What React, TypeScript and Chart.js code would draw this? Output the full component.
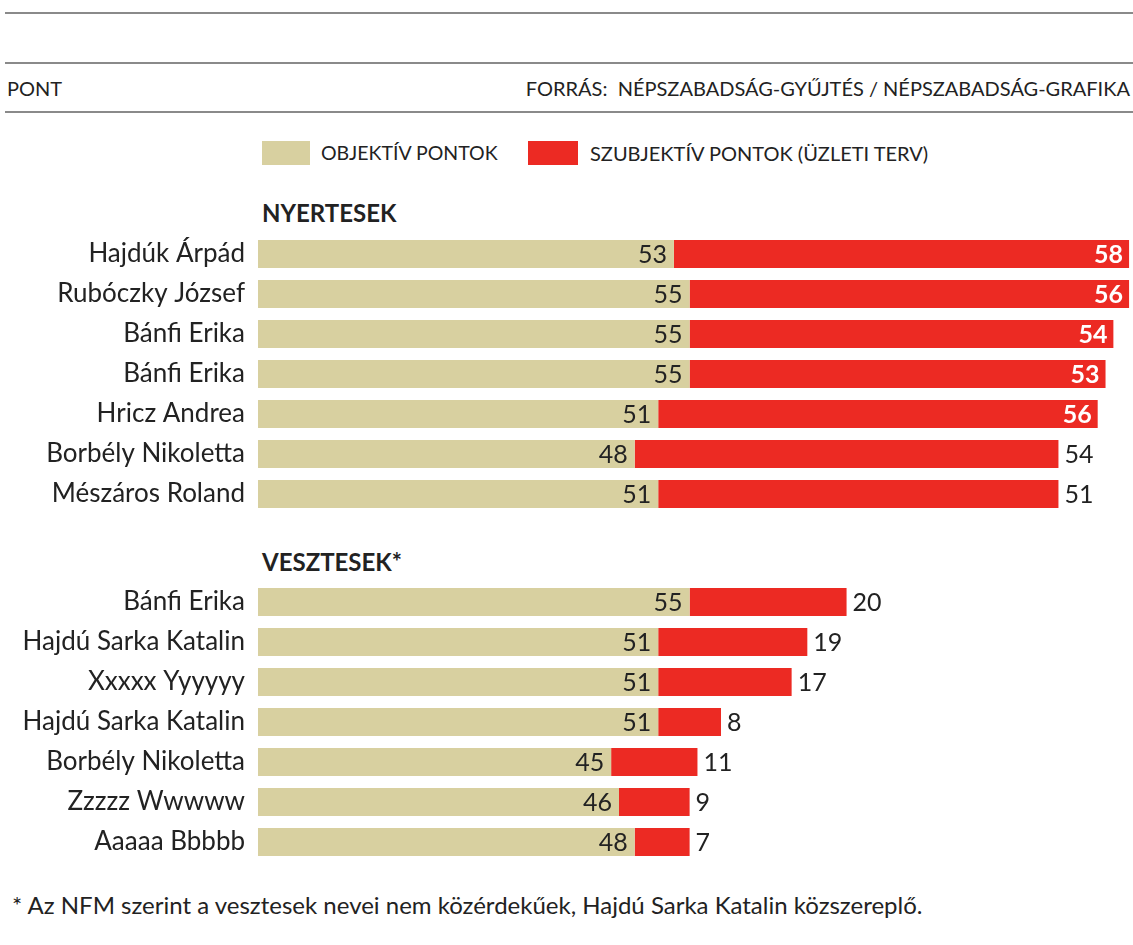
import React, { useEffect, useRef } from "react";
import { Chart, registerables } from "chart.js";

Chart.register(...registerables);

const seriesNames = ["OBJEKTÍV PONTOK", "SZUBJEKTÍV PONTOK (ÜZLETI TERV)"];

const winnerNames = [
  "Hajdúk Árpád",
  "Rubóczky József",
  "Bánfi Erika",
  "Bánfi Erika",
  "Hricz Andrea",
  "Borbély Nikoletta",
  "Mészáros Roland",
];
const winnerObjective = [53, 55, 55, 55, 51, 48, 51];
const winnerSubjective = [58, 56, 54, 53, 56, 54, 51];

const loserNames = [
  "Bánfi Erika",
  "Hajdú Sarka Katalin",
  "Xxxxx Yyyyyy",
  "Hajdú Sarka Katalin",
  "Borbély Nikoletta",
  "Zzzzz Wwwww",
  "Aaaaa Bbbbb",
];
const loserObjective = [55, 51, 51, 51, 45, 46, 48];
const loserSubjective = [20, 19, 17, 8, 11, 9, 7];

const xMax = 111.5;

const FONT = "Lato, 'Open Sans', sans-serif";
const TAN = "#d8d0a0";
const RED = "#ec2a23";
const TEXT = "#222222";

const labelPlugin = {
  id: "valueLabels",
  afterDatasetsDraw(chart: any) {
    const ctx = chart.ctx;
    const area = chart.chartArea;
    ctx.save();
    ctx.textBaseline = "middle";
    const m0 = chart.getDatasetMeta(0);
    m0.data.forEach((bar: any, i: number) => {
      const v = chart.data.datasets[0].data[i];
      ctx.font = `25px ${FONT}`;
      ctx.fillStyle = TEXT;
      ctx.textAlign = "right";
      ctx.fillText(String(v), bar.x - 7, bar.y + 1);
    });
    const m1 = chart.getDatasetMeta(1);
    m1.data.forEach((bar: any, i: number) => {
      const v = chart.data.datasets[1].data[i];
      const inside = bar.x + 45 > area.right;
      if (inside) {
        ctx.font = `bold 25px ${FONT}`;
        ctx.fillStyle = "#ffffff";
        ctx.textAlign = "right";
        ctx.fillText(String(v), bar.x - 6, bar.y + 1);
      } else {
        ctx.font = `25px ${FONT}`;
        ctx.fillStyle = TEXT;
        ctx.textAlign = "left";
        ctx.fillText(String(v), bar.x + 6, bar.y + 1);
      }
    });
    ctx.restore();
  },
};

function BarBlock(props: { names: string[]; obj: number[]; subj: number[]; top: number }) {
  const ref = useRef<HTMLCanvasElement>(null);
  useEffect(() => {
    const chart = new Chart(ref.current as HTMLCanvasElement, {
      type: "bar",
      data: {
        labels: props.names,
        datasets: [
          {
            label: seriesNames[0],
            data: props.obj,
            backgroundColor: TAN,
            borderWidth: 0,
            barPercentage: 0.7,
            categoryPercentage: 1,
          },
          {
            label: seriesNames[1],
            data: props.subj,
            backgroundColor: RED,
            borderWidth: 0,
            barPercentage: 0.7,
            categoryPercentage: 1,
          },
        ],
      },
      options: {
        indexAxis: "y",
        responsive: false,
        maintainAspectRatio: false,
        animation: false,
        layout: { padding: 0 },
        plugins: { legend: { display: false }, tooltip: { enabled: false } },
        scales: {
          x: { stacked: true, min: 0, max: xMax, display: false },
          y: {
            stacked: true,
            grid: { display: false, drawTicks: true, tickLength: 13 },
            border: { display: false },
            ticks: { padding: 0, color: TEXT, font: { family: FONT, size: 26, lineHeight: 0 } },
            afterFit: (s: any) => {
              s.width = 258;
            },
          },
        },
      } as any,
      plugins: [labelPlugin],
    });
    return () => chart.destroy();
  }, []);
  return (
    <canvas
      ref={ref}
      width={1133}
      height={280}
      style={{ position: "absolute", left: 0, top: props.top, width: 1133, height: 280 }}
    />
  );
}

export default function App() {
  useEffect(() => {
    document.body.style.margin = "0";
    document.body.style.background = "#ffffff";
  }, []);
  const line = (top: number) => (
    <div style={{ position: "absolute", left: 5, right: 0, top, height: 2, background: "#8a8a8a" }} />
  );
  return (
    <div style={{ position: "relative", width: 1133, height: 945, background: "#fff", fontFamily: FONT, color: TEXT, overflow: "hidden" }}>
      {line(12)}
      {line(62)}
      {line(111)}
      <div style={{ position: "absolute", left: 7, top: 76, fontSize: 20, lineHeight: "24px" }}>PONT</div>
      <div style={{ position: "absolute", right: 3, top: 76, fontSize: 20, lineHeight: "24px" }}>
        FORRÁS:&nbsp; NÉPSZABADSÁG-GYŰJTÉS / NÉPSZABADSÁG-GRAFIKA
      </div>
      <div style={{ position: "absolute", left: 262, top: 141, width: 48, height: 24, background: TAN }} />
      <div style={{ position: "absolute", left: 321, top: 141, fontSize: 19.5, lineHeight: "24px" }}>{seriesNames[0]}</div>
      <div style={{ position: "absolute", left: 528, top: 141, width: 50, height: 24, background: RED }} />
      <div style={{ position: "absolute", left: 590, top: 141, fontSize: 20, lineHeight: "24px" }}>{seriesNames[1]}</div>
      <div style={{ position: "absolute", left: 262, top: 198, fontSize: 24, fontWeight: "bold", lineHeight: "30px" }}>NYERTESEK</div>
      <BarBlock names={winnerNames} obj={winnerObjective} subj={winnerSubjective} top={234} />
      <div style={{ position: "absolute", left: 262, top: 547, fontSize: 24, fontWeight: "bold", lineHeight: "30px" }}>VESZTESEK*</div>
      <BarBlock names={loserNames} obj={loserObjective} subj={loserSubjective} top={582} />
      <div style={{ position: "absolute", left: 12, top: 890, fontSize: 24, lineHeight: "30px" }}>
        * Az NFM szerint a vesztesek nevei nem közérdekűek, Hajdú Sarka Katalin közszereplő.
      </div>
    </div>
  );
}
